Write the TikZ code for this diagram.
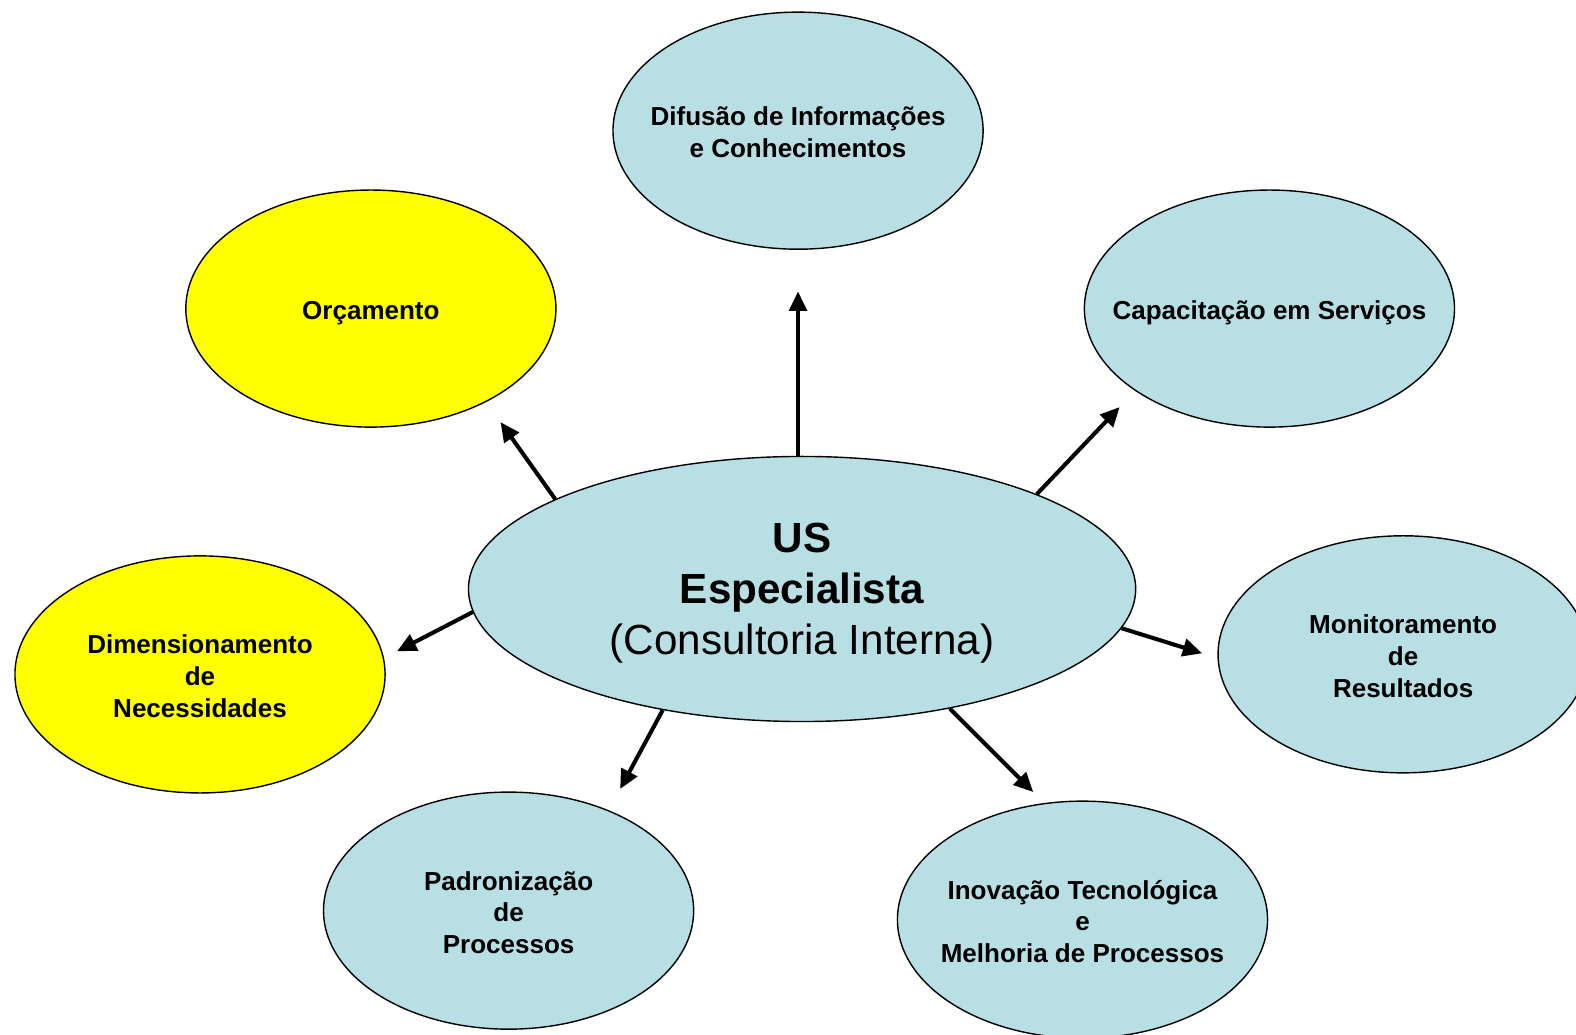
\documentclass[tikz,border=0pt]{standalone}
\usepackage{fontspec}
\setmainfont{Liberation Sans}
\usetikzlibrary{shapes.geometric,arrows.meta}
\definecolor{bubbleblue}{RGB}{184,224,228}
\definecolor{bubbleyellow}{RGB}{255,255,0}

\begin{document}
\begin{tikzpicture}[x=.0201cm,y=-.0201cm]
\tikzset{bubble/.style={ellipse,draw=black,line width=.8pt,fill=bubbleblue,inner sep=0pt,
    minimum width=7.4cm,minimum height=4.74cm},
  hub/.style={bubble,minimum width=13.34cm,minimum height=5.3cm},
  lab/.style={align=center,yshift=-1pt,font=\bfseries\fontsize{14.8}{18}\selectfont},
  hublab/.style={align=center,yshift=-2.5pt,font=\fontsize{24}{29}\selectfont},
  link/.style={draw=black,line width=2.3pt,-{Triangle[length=11pt,width=10pt]}}}
\useasboundingbox (0,0) rectangle (1568,1029);
\clip (0,0) rectangle (1568,1029);
% outer bubbles
\node[bubble,label={[lab]center:Difusão de Informações\\e Conhecimentos}] (difusao) at (794,130) {};
\node[bubble,fill=bubbleyellow,label={[lab,yshift=-1.5pt]center:Orçamento}] (orcamento) at (369,307) {};
\node[bubble,label={[lab,yshift=-1.5pt]center:Capacitação em Serviços}] (capacitacao) at (1263,307) {};
\node[bubble,fill=bubbleyellow,label={[lab]center:Dimensionamento\\de\\Necessidades}] (dimensionamento) at (199,671) {};
\node[bubble,label={[lab]center:Monitoramento\\de\\Resultados}] (monitoramento) at (1396,651) {};
\node[bubble,label={[lab]center:Padronização\\de\\Processos}] (padronizacao) at (506,906) {};
\node[bubble,label={[lab]center:Inovação Tecnológica\\e\\Melhoria de Processos}] (inovacao) at (1077,915) {};
% hub
\node[hub,label={[hublab]center:\textbf{US}\\\textbf{Especialista}\\(Consultoria Interna)}] (us) at (798,586) {};
% arrow tips
\coordinate (tipDif) at (794,290);
\coordinate (tipOrc) at (498,420);
\coordinate (tipCap) at (1114,405);
\coordinate (tipDim) at (395,648);
\coordinate (tipMon) at (1196,650);
\coordinate (tipPad) at (617,785);
\coordinate (tipInov) at (1028,788);
\draw[link] (us.north -| tipDif) -- (tipDif);
\draw[link] (us.160) -- (tipOrc);
\draw[link] (us.22) -- (tipCap);
\draw[link] (us.184) -- (tipDim);
\draw[link] (us.-7.5) -- (tipMon);
\draw[link] (us.221.7) -- (tipPad);
\draw[link] (us.-39.2) -- (tipInov);
\end{tikzpicture}
\end{document}
